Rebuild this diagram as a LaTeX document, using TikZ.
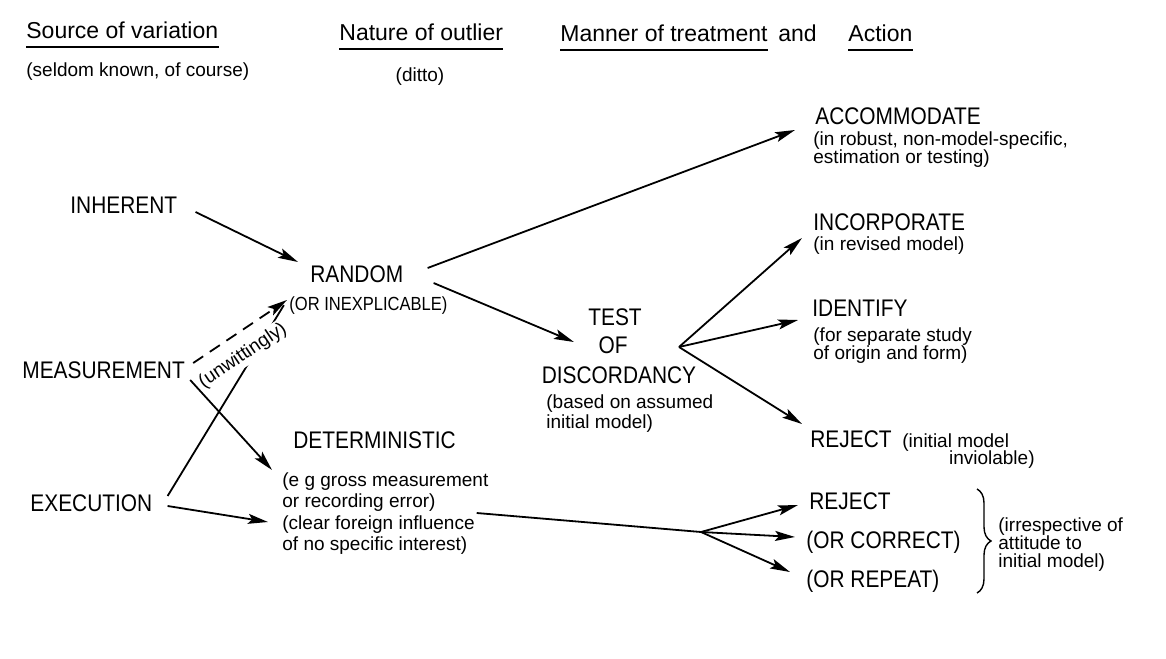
\documentclass[tikz,border=0pt]{standalone}
\usepackage{fontspec}
\setmainfont{Liberation Sans}
\newfontfamily\capfont{Liberation Sans}[FakeStretch=0.87]
\usepackage{tikz}
\usetikzlibrary{arrows.meta,decorations.pathreplacing}

\tikzset{
  head/.style={font=\fontsize{11.5pt}{12pt}\selectfont,inner sep=0pt,anchor=base west},
  capword/.style={font=\capfont\fontsize{12pt}{12pt}\selectfont,inner sep=0pt,anchor=base west},
  smallcap/.style={font=\capfont\fontsize{9.5pt}{9.5pt}\selectfont,inner sep=0pt,anchor=base west},
  note/.style={font=\fontsize{9.5pt}{9.5pt}\selectfont,inner sep=0pt,align=left,anchor=north west},
  uline/.style={line width=0.6pt},
  link/.style={-{Stealth[length=10pt,width=5pt,inset=2pt]},line width=0.9pt},
  fork/.style={line width=0.9pt},
  curly/.style={decorate,decoration={brace,amplitude=7pt},line width=0.7pt}
}

\begin{document}
\begin{tikzpicture}[x=0.5pt,y=-0.5pt]
\useasboundingbox (0,0) rectangle (1166,658);

% column headings
\node[head] (src) at (26,39) {Source of variation};
\node[head] (nat) at (339,41) {Nature of outlier};
\node[head] (man) at (560,42) {Manner of treatment};
\node[head] (und) at (778,42) {and};
\node[head] (act) at (848,42) {Action};
\foreach \h in {src,nat,man,act}
  \draw[uline] ([yshift=-4pt]\h.base west) -- ([yshift=-4pt]\h.base east);
\node[note,anchor=base west] (seldom) at (26,77) {(seldom known, of course)};
\node[note,anchor=base] (ditto) at (420,82) {(ditto)};

% sources
\node[capword] (inherent) at (70,213) {INHERENT};
\node[capword] (measure) at (22,378) {MEASUREMENT};
\node[capword] (exec) at (30,511) {EXECUTION};

% nature of outlier
\node[capword] (random) at (310,282) {RANDOM};
\node[smallcap] (inexp) at (289,310) {(OR INEXPLICABLE)};
\node[capword] (determ) at (293,448) {DETERMINISTIC};
\node[note,font=\fontsize{9.5pt}{10.8pt}\selectfont] (detnote) at (282,472)
  {(e g gross measurement\\or recording error)\\(clear foreign influence\\of no specific interest)};

% test
\node[capword,anchor=base] (test) at (615,325) {TEST};
\node[capword,anchor=base] (testof) at (613,353) {OF};
\node[capword,anchor=base] (discord) at (619,383) {DISCORDANCY};
\node[note,font=\fontsize{9.5pt}{10pt}\selectfont] (based) at (546,394) {(based on assumed\\initial model)};

% actions
\node[capword] (accom) at (815,125) {ACCOMMODATE};
\node[note,font=\fontsize{9.5pt}{9pt}\selectfont] (accnote) at (813,131) {(in robust, non-model-specific,\\estimation or testing)};
\node[capword] (incorp) at (813,230) {INCORPORATE};
\node[note] (incnote) at (813,236) {(in revised model)};
\node[capword] (ident) at (812,316) {IDENTIFY};
\node[note,font=\fontsize{9.5pt}{9pt}\selectfont] (idnote) at (813,327) {(for separate study\\of origin and form)};
\node[capword] (reject) at (810,447) {REJECT};
\node[note,anchor=base west] (rejnote) at (902,447) {(initial model};
\node[note,anchor=base east] (rejnote2) at (1035,464) {inviolable)};
\node[capword] (rejectb) at (809,509) {REJECT};
\node[capword] (correct) at (806,548) {(OR CORRECT)};
\node[capword] (redo) at (806,587) {(OR REPEAT)};

\coordinate (btop) at (977,489);
\coordinate (bbot) at (977,593);
\draw[curly] (btop) -- (bbot);
\node[note,font=\fontsize{9.5pt}{9pt}\selectfont] (irresp) at (998,517) {(irrespective of\\attitude to\\initial model)};

\coordinate (tfork) at (679,347);
\coordinate (dfork) at (701,532);

% connectors
\draw[link] ([shift={(18,-1)}]inherent.base east) -- ([shift={(-12,-20)}]random.base west);
\draw[link] ([shift={(24,-14)}]random.base east) -- ([shift={(-20,5)}]accom.base west);
\draw[link] ([shift={(30,1)}]random.base east) -- ([shift={(-14,17)}]test.base west);
\draw[fork,shorten >=3pt] ([shift={(15,-15)}]exec.base east) -- ([shift={(-2,-10)}]inexp.base west);
\draw[link,dash pattern=on 6pt off 4pt] ([shift={(8,-15)}]measure.base east) --
  node[note,pos=0.4,sloped,below=5pt,fill=white,inner sep=1pt] (unwit) {(unwittingly)}
  ([shift={(-2,-10)}]inexp.base west);
\draw[link] ([shift={(5,2)}]measure.base east) -- ([shift={(-21,22)}]determ.base west);
\draw[link] ([shift={(15,-5)}]exec.base east) -- ([shift={(-14,50)}]detnote.north west);
\draw[fork] ([shift={(-12,41)}]detnote.north east) -- (dfork);
\draw[link] (dfork) -- ([shift={(-11,-4)}]rejectb.base west);
\draw[link] (dfork) -- ([shift={(-11,-11)}]correct.base west);
\draw[link] (dfork) -- ([shift={(-16,-15)}]redo.base west);
\draw[link] (tfork) -- ([shift={(-11,8)}]incorp.base west);
\draw[link] (tfork) -- ([shift={(-14,4)}]ident.base west);
\draw[link] (tfork) -- ([shift={(-8,-23)}]reject.base west);
\end{tikzpicture}
\end{document}
